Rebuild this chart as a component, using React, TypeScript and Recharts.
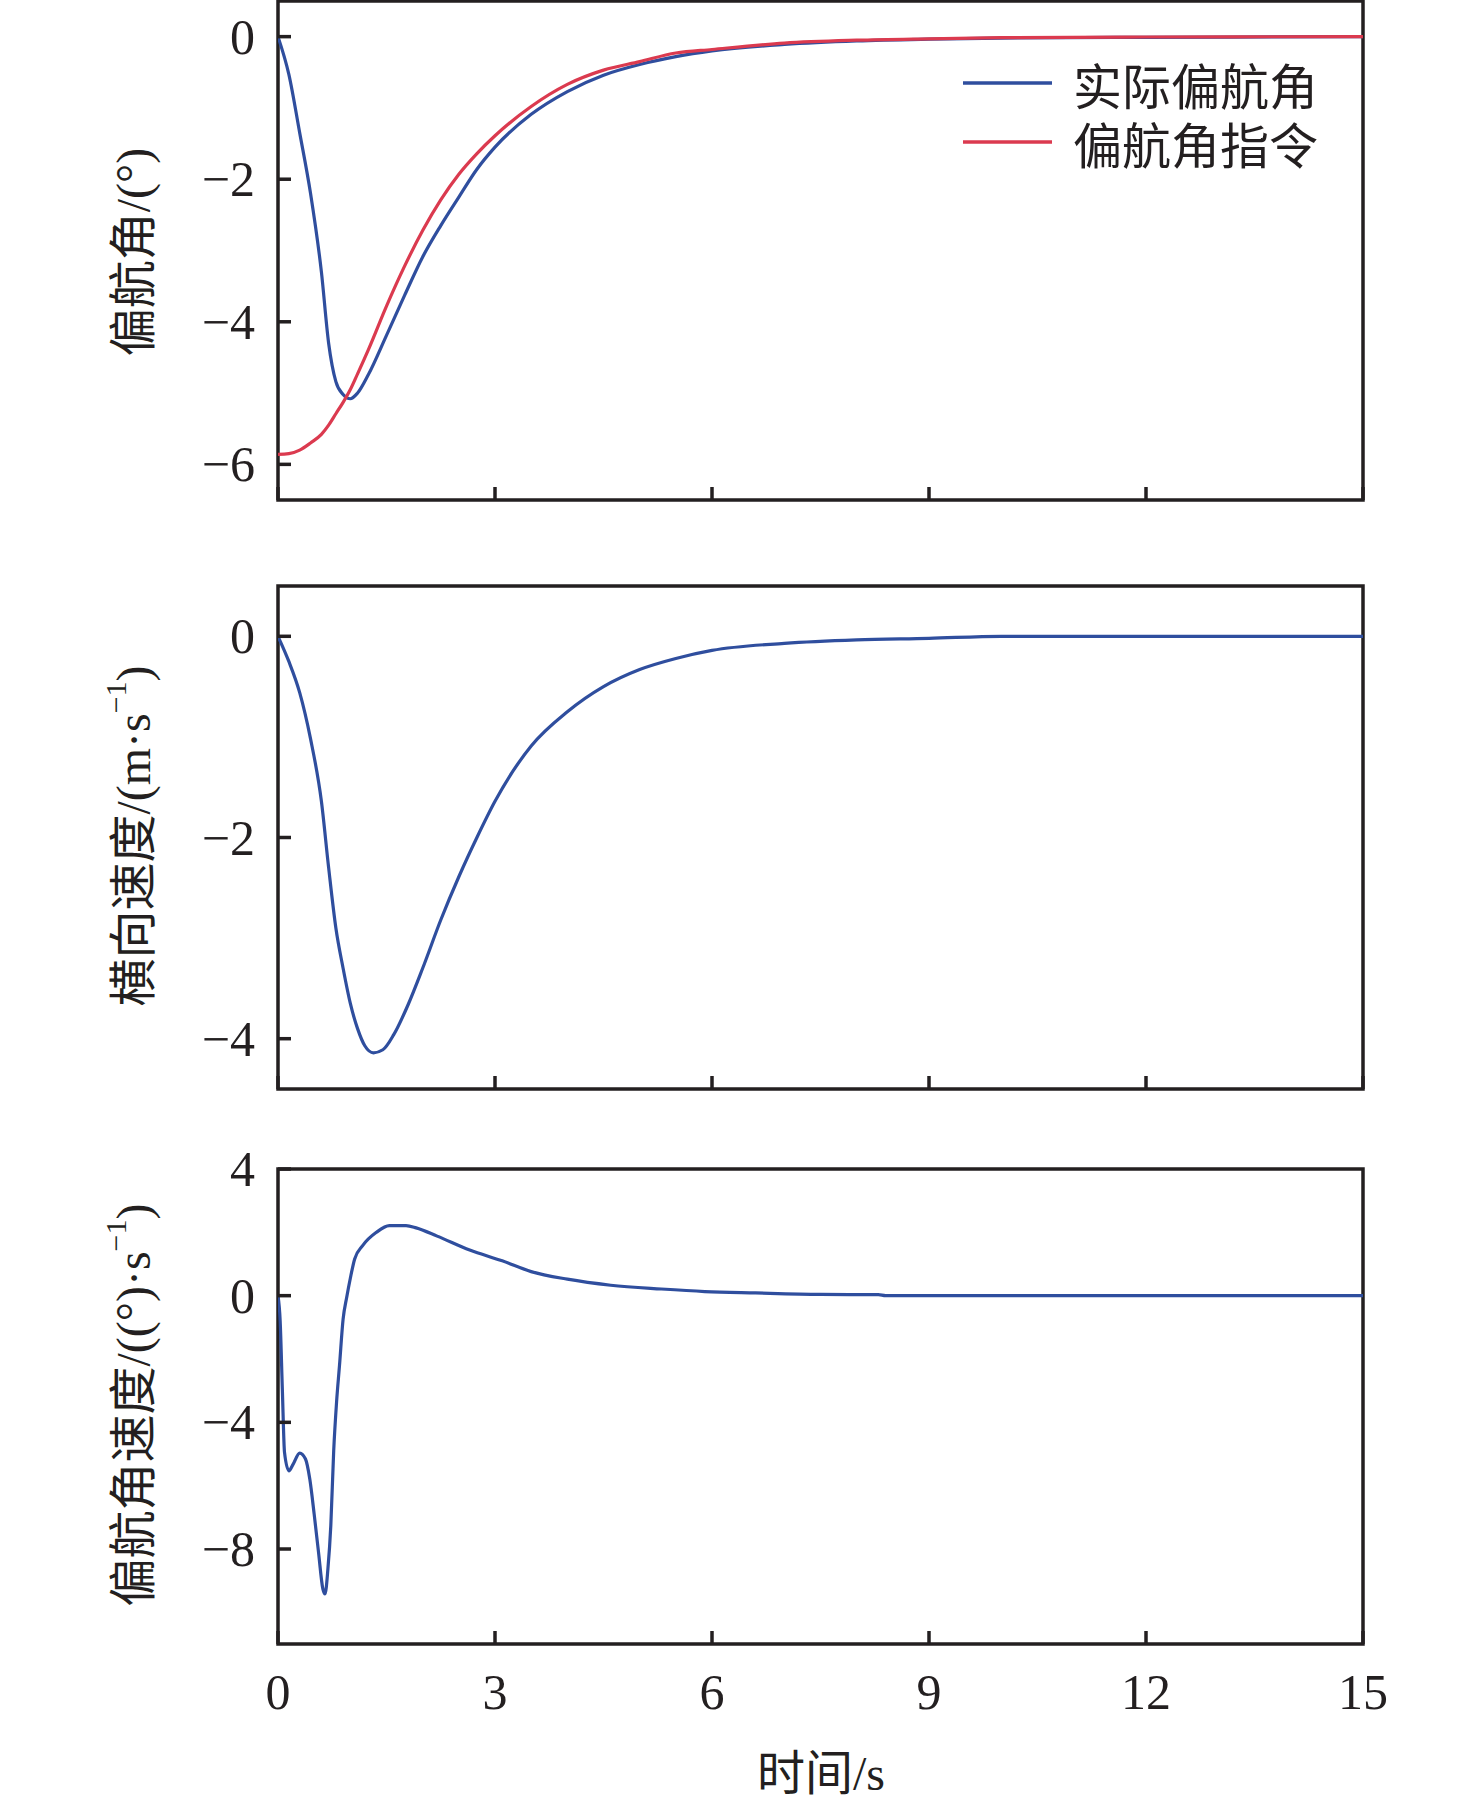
import { LineChart, Line, XAxis, YAxis, ReferenceArea, Legend } from 'recharts';

const INK = '#231F20';
const BLUE = '#2F4E9E';
const RED = '#DB3A4F';
const SERIF = "'Liberation Serif', 'Times New Roman', serif";
const MIXED = "'Liberation Serif', 'Noto Sans CJK SC', serif";
const CJK = "'Noto Sans CJK SC', sans-serif";

const PLOT_LEFT = 278;
const TICK_LEN = 13;

const timeTicks = [0, 3, 6, 9, 12, 15];

// panel 1: yaw angle (deg)
const yawTime = [0, 0.15, 0.3, 0.45, 0.6, 0.7, 0.8, 0.9, 1.0, 1.1, 1.25, 1.5, 1.75, 2.0, 2.25, 2.5, 2.75, 3.0, 3.5, 4.0, 4.5, 5.0, 5.5, 6.0, 7.0, 8.0, 9.0, 10, 12, 15];
const yawActual = [0, -0.53, -1.35, -2.2, -3.3, -4.3, -4.84, -5.02, -5.08, -5.0, -4.74, -4.19, -3.63, -3.09, -2.65, -2.25, -1.86, -1.55, -1.09, -0.77, -0.54, -0.39, -0.28, -0.2, -0.11, -0.06, -0.035, -0.02, -0.01, 0];
const yawCommand = [-5.86, -5.85, -5.8, -5.7, -5.58, -5.45, -5.29, -5.13, -4.95, -4.73, -4.39, -3.78, -3.22, -2.72, -2.29, -1.93, -1.64, -1.39, -0.98, -0.67, -0.47, -0.35, -0.23, -0.18, -0.09, -0.05, -0.03, -0.015, -0.005, 0];
const yawTicks = [-6, -4, -2, 0];
const legendOrder = ['实际偏航角', '偏航角指令'];

// panel 2: lateral velocity (m/s)
const velTime = [0, 0.15, 0.3, 0.45, 0.6, 0.7, 0.8, 0.9, 1.0, 1.1, 1.2, 1.32, 1.45, 1.6, 1.8, 2.0, 2.25, 2.5, 2.75, 3.0, 3.5, 4.0, 4.5, 5.0, 5.5, 6.0, 7.0, 8.0, 9.0, 10, 12, 15];
const lateralVel = [0, -0.25, -0.56, -1.02, -1.64, -2.3, -2.9, -3.3, -3.65, -3.9, -4.07, -4.14, -4.11, -3.96, -3.66, -3.3, -2.82, -2.39, -2.0, -1.64, -1.09, -0.75, -0.5, -0.33, -0.22, -0.14, -0.07, -0.035, -0.02, 0, 0, 0];
const velTicks = [-4, -2, 0];

// panel 3: yaw rate (deg/s)
const rateTime = [0, 0.03, 0.06, 0.09, 0.15, 0.21, 0.3, 0.38, 0.44, 0.5, 0.56, 0.62, 0.65, 0.69, 0.73, 0.77, 0.81, 0.85, 0.9, 0.95, 1.0, 1.06, 1.17, 1.36, 1.54, 1.77, 1.91, 2.2, 2.65, 3.1, 3.5, 4.0, 4.6, 5.3, 5.9, 6.6, 7.5, 8.3, 8.4, 15];
const yawRate = [0, -0.8, -2.95, -4.95, -5.53, -5.32, -4.97, -5.16, -5.8, -6.9, -8.1, -9.26, -9.42, -8.63, -7.26, -4.9, -3.35, -2.21, -0.74, -0.05, 0.55, 1.16, 1.58, 2.0, 2.21, 2.21, 2.14, 1.88, 1.44, 1.1, 0.76, 0.52, 0.33, 0.21, 0.13, 0.086, 0.04, 0.03, 0, 0];
const rateTicks = [-8, -4, 0, 4];

const yawData = yawTime.map((t, i) => ({ t, actual: yawActual[i], command: yawCommand[i] }));
const velData = velTime.map((t, i) => ({ t, v: lateralVel[i] }));
const rateData = rateTime.map((t, i) => ({ t, r: yawRate[i] }));

const fmt = (v: number) => (v < 0 ? `\u2212${Math.abs(v)}` : `${v}`);

const renderLegend = (props: any) => {
  const items = [...(props.payload || [])].sort(
    (a: any, b: any) => legendOrder.indexOf(a.value) - legendOrder.indexOf(b.value),
  );
  return (
    <svg width={420} height={150}>
      {items.map((p: any, i: number) => (
        <g key={i}>
          <line x1={13} x2={102} y1={43 + i * 59} y2={43 + i * 59} stroke={p.color} strokeWidth={3.5} />
          <text x={123} y={43 + i * 59} dominantBaseline="central" fontSize={49} fontFamily={CJK} fill={INK}>
            {p.value}
          </text>
        </g>
      ))}
    </svg>
  );
};

// inward tick marks, labels outside
const makeYTick = () => (props: any) => {
  const { y, payload } = props;
  return (
    <g>
      <line x1={PLOT_LEFT} x2={PLOT_LEFT + TICK_LEN} y1={y} y2={y} stroke={INK} strokeWidth={3.5} />
      <text x={255} y={y} textAnchor="end" dominantBaseline="central" fontSize={50} fontFamily={SERIF} fill={INK}>
        {fmt(payload.value)}
      </text>
    </g>
  );
};

const makeXTick = (plotBottom: number, showLabel: boolean) => (props: any) => {
  const { x, payload } = props;
  return (
    <g>
      <line x1={x} x2={x} y1={plotBottom - TICK_LEN} y2={plotBottom} stroke={INK} strokeWidth={3.5} />
      {showLabel && (
        <text x={x} y={plotBottom + 48} textAnchor="middle" dominantBaseline="central" fontSize={50} fontFamily={SERIF} fill={INK}>
          {payload.value}
        </text>
      )}
    </g>
  );
};

interface PanelProps {
  data: any[];
  top: number;
  height: number;
  marginTop: number;
  plotHeight: number;
  domain: [number, number];
  yTicks: number[];
  showXLabels?: boolean;
  children: any;
}

function Panel({ data, top, height, marginTop, plotHeight, domain, yTicks, showXLabels, children }: PanelProps) {
  const axisHeight = height - marginTop - plotHeight;
  const plotBottom = marginTop + plotHeight;
  return (
    <div style={{ position: 'absolute', left: 0, top }}>
      <LineChart width={1476} height={height} data={data} margin={{ top: marginTop, right: 113, left: 0, bottom: 0 }}>
        <XAxis
          type="number"
          dataKey="t"
          domain={[0, 15]}
          ticks={timeTicks}
          interval={0}
          allowDataOverflow
          height={axisHeight}
          axisLine={false}
          tickLine={false}
          tick={makeXTick(plotBottom, !!showXLabels)}
        />
        <YAxis
          type="number"
          domain={domain}
          ticks={yTicks}
          interval={0}
          allowDataOverflow
          width={PLOT_LEFT}
          axisLine={false}
          tickLine={false}
          tick={makeYTick()}
        />
        <ReferenceArea x1={0} x2={15} y1={domain[0]} y2={domain[1]} fill="none" stroke={INK} strokeWidth={3.5} ifOverflow="visible" />
        {children}
      </LineChart>
    </div>
  );
}

export default function App() {
  return (
    <div style={{ position: 'absolute', left: 0, top: 0, width: 1476, height: 1807, background: '#fff' }}>
      <Panel data={yawData} top={0} height={520} marginTop={1} plotHeight={499} domain={[-6.5, 0.5]} yTicks={yawTicks}>
        <Line type="monotone" dataKey="actual" name="实际偏航角" stroke={BLUE} strokeWidth={3.2} dot={false} isAnimationActive={false} />
        <Line type="monotone" dataKey="command" name="偏航角指令" stroke={RED} strokeWidth={3.2} dot={false} isAnimationActive={false} />
        <Legend
          layout="vertical"
          align="center"
          verticalAlign="middle"
          content={renderLegend}
          wrapperStyle={{ position: 'absolute', left: 950, top: 40, width: 420, height: 150 }}
        />
      </Panel>
      <Panel data={velData} top={570} height={540} marginTop={16} plotHeight={503} domain={[-4.5, 0.5]} yTicks={velTicks}>
        <Line type="monotone" dataKey="v" stroke={BLUE} strokeWidth={3.2} dot={false} isAnimationActive={false} />
      </Panel>
      <Panel data={rateData} top={1120} height={687} marginTop={49} plotHeight={475} domain={[-11, 4]} yTicks={rateTicks} showXLabels>
        <Line type="monotone" dataKey="r" stroke={BLUE} strokeWidth={3.2} dot={false} isAnimationActive={false} />
      </Panel>
      <svg width={1476} height={1807} style={{ position: 'absolute', left: 0, top: 0, pointerEvents: 'none' }}>
        <text transform="translate(133, 252) rotate(-90)" textAnchor="middle" dominantBaseline="central" fontSize={48} fontFamily={MIXED} fill={INK}>
          偏航角/(°)
        </text>
        <text transform="translate(133, 836) rotate(-90)" textAnchor="middle" dominantBaseline="central" fontSize={48} fontFamily={MIXED} fill={INK}>
          <tspan>横向速度/(m·s</tspan>
          <tspan dy={-18} fontSize={30}>{'\u2212'}1</tspan>
          <tspan dy={18}>)</tspan>
        </text>
        <text transform="translate(133, 1405) rotate(-90)" textAnchor="middle" dominantBaseline="central" fontSize={48} fontFamily={MIXED} fill={INK}>
          <tspan>偏航角速度/((°)·s</tspan>
          <tspan dy={-18} fontSize={30}>{'\u2212'}1</tspan>
          <tspan dy={18}>)</tspan>
        </text>
        <text x={821} y={1773} textAnchor="middle" dominantBaseline="central" fontSize={48} fontFamily={MIXED} fill={INK}>
          时间/s
        </text>
      </svg>
    </div>
  );
}
